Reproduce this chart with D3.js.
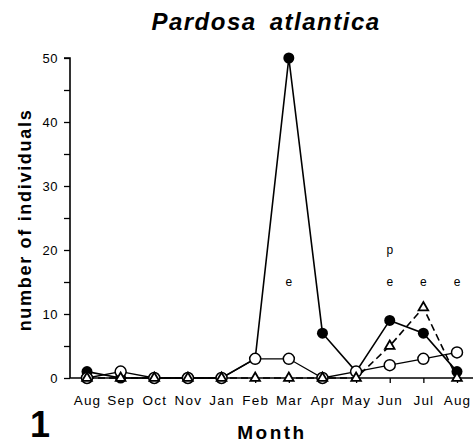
<!DOCTYPE html>
<html><head><meta charset="utf-8">
<script src="https://cdn.jsdelivr.net/npm/d3@7"></script>
<style>body{margin:0;background:#fff;}svg{display:block;font-family:"Liberation Sans",Arial,sans-serif;}</style>
</head><body>
<svg id="c" width="473" height="446"></svg>
<script>
const months = ["Aug","Sep","Oct","Nov","Jan","Feb","Mar","Apr","May","Jun","Jul","Aug"];
const filledVals = [1,0,0,0,0,3,50,7,1,9,7,1];
const openVals = [0,1,0,0,0,3,3,0,1,2,3,4];
const triVals = [0,0,0,0,0,0,0,0,0,5,11,0];
const yTicks = [0,10,20,30,40,50];
const notes = [{i:6,t:"e",v:14.3},{i:9,t:"p",v:19.3},{i:9,t:"e",v:14.3},{i:10,t:"e",v:14.3},{i:11,t:"e",v:14.3}];

const svg = d3.select("#c");
const idx = months.map((d,i)=>i);
const x = d3.scalePoint().domain(idx).range([87,457]);
const y = d3.scaleLinear().domain([0,50]).range([378,58]);

svg.append("text").attr("x",266).attr("y",30).attr("text-anchor","middle")
  .attr("font-size",24).attr("font-weight","bold").attr("font-style","italic")
  .attr("letter-spacing",1.5).attr("word-spacing",5).text("Pardosa atlantica");

// y axis
const ya = svg.append("g").attr("transform","translate(70,0)")
  .call(d3.axisLeft(y).tickValues(d3.range(0,51,5)).tickSize(6).tickPadding(6).tickFormat(d=>yTicks.includes(d)?d:""));
ya.select(".domain").attr("stroke","#000").attr("stroke-width",1.6).attr("d","M-6,58H0V378");
ya.selectAll("line").attr("stroke-width",1.3);
ya.selectAll("text").attr("font-size",13).attr("fill","#000").attr("letter-spacing",0.5);

// x axis
const xa = svg.append("g").attr("transform","translate(0,378)")
  .call(d3.axisBottom(x).tickSize(5).tickFormat(i=>months[i]));
xa.select(".domain").attr("stroke-width",1.6).attr("d","M70,0H473");
xa.selectAll("line").attr("stroke-width",1.3);
xa.selectAll("text").attr("font-size",13.5).attr("fill","#000").attr("letter-spacing",1.2)
  .attr("y",27).attr("dy",0);

svg.append("text").attr("transform","translate(31,220) rotate(-90)").attr("text-anchor","middle")
  .attr("font-size",18).attr("font-weight","bold").attr("letter-spacing",1.7).text("number of individuals");
svg.append("text").attr("x",272).attr("y",439).attr("text-anchor","middle")
  .attr("font-size",19).attr("font-weight","bold").attr("letter-spacing",2.5).text("Month");
svg.append("text").attr("x",40).attr("y",437).attr("text-anchor","middle")
  .attr("font-size",36).attr("font-weight","bold").text("1");

const line = d3.line().x((d,i)=>x(i)).y(d=>y(d));
svg.append("path").datum(triVals).attr("d",line).attr("fill","none").attr("stroke","#000")
  .attr("stroke-width",1.6).attr("stroke-dasharray","7,4");
svg.append("path").datum(filledVals).attr("d",line).attr("fill","none").attr("stroke","#000").attr("stroke-width",1.6);
svg.append("path").datum(openVals).attr("d",line).attr("fill","none").attr("stroke","#000").attr("stroke-width",1.3);

svg.selectAll(".f").data(filledVals).enter().append("circle")
  .attr("cx",(d,i)=>x(i)).attr("cy",d=>y(d)).attr("r",5.5).attr("fill","#000");
svg.selectAll(".o").data(openVals).enter().append("circle")
  .attr("cx",(d,i)=>x(i)).attr("cy",d=>y(d)).attr("r",5.5).attr("fill","#fff").attr("stroke","#000").attr("stroke-width",1.5);
const tri = d3.symbol().type(d3.symbolTriangle).size(40);
svg.selectAll(".t").data(triVals).enter().append("path")
  .attr("d",tri).attr("transform",(d,i)=>`translate(${x(i)},${y(d)})`)
  .attr("fill","#fff").attr("stroke","#000").attr("stroke-width",1.8);

svg.selectAll(".n").data(notes).enter().append("text")
  .attr("x",d=>x(d.i)).attr("y",d=>y(d.v)).attr("text-anchor","middle")
  .attr("font-size",12).text(d=>d.t);
</script>
</body></html>
